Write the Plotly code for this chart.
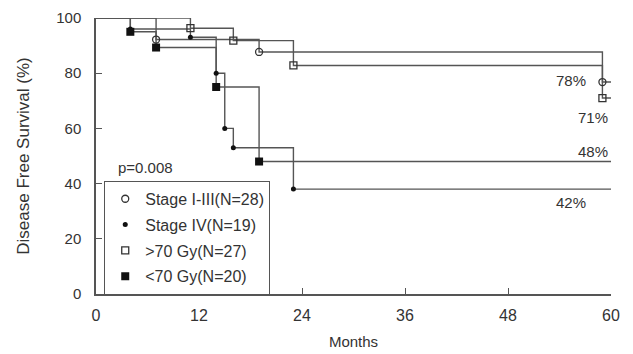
import plotly.graph_objects as go

# Kaplan-Meier step data (months, disease free survival %)
stage13_t = [0, 7, 19, 59, 60]
stage13_s = [100, 92.2, 87.7, 76.8, 76.8]

stage4_t = [0, 4, 11, 14, 15, 16, 23, 60]
stage4_s = [100, 96, 93, 80, 60, 53, 38, 38]

gt70_t = [0, 11, 16, 23, 59, 60]
gt70_s = [100, 96.3, 91.8, 82.8, 71, 71]

lt70_t = [0, 4, 7, 14, 19, 60]
lt70_s = [100, 95, 89.3, 75, 48, 48]

series_names = ["Stage I-III(N=28)", "Stage IV(N=19)", ">70 Gy(N=27)", "<70 Gy(N=20)"]
x_ticks = [0, 12, 24, 36, 48, 60]
y_ticks = [0, 20, 40, 60, 80, 100]
end_labels = ["78%", "71%", "48%", "42%"]
end_label_x = [55.3, 57.9, 57.9, 55.3]
end_label_y = [77.5, 64.0, 51.5, 33.0]

LINE = "#555555"
FONT = "Liberation Sans, Arial, sans-serif"

fig = go.Figure()

series = [
    (stage13_t, stage13_s, dict(symbol="circle-open", size=7, color="#333", line=dict(width=1.3, color="#333"))),
    (stage4_t, stage4_s, dict(symbol="circle", size=5, color="#111")),
    (gt70_t, gt70_s, dict(symbol="square-open", size=7, color="#333", line=dict(width=1.3, color="#333"))),
    (lt70_t, lt70_s, dict(symbol="square", size=8, color="#111")),
]

for i, (t, s, mk) in enumerate(series):
    fig.add_trace(go.Scatter(
        x=t, y=s, mode="lines", line=dict(shape="hv", color=LINE, width=1.4),
        showlegend=False, hoverinfo="skip", cliponaxis=False))
for i, (t, s, mk) in enumerate(series):
    fig.add_trace(go.Scatter(
        x=t[1:-1], y=s[1:-1], mode="markers", marker=mk, name=series_names[i],
        legendgroup=f"g{i}", showlegend=True, cliponaxis=False))

for txt, x, y in zip(end_labels, end_label_x, end_label_y):
    fig.add_annotation(x=x, y=y, text=txt, showarrow=False,
                       font=dict(family=FONT, size=15, color="#333"))

fig.add_annotation(x=2.3, y=46, text="p=0.008", showarrow=False, xanchor="left",
                   font=dict(family=FONT, size=15, color="#333"))

fig.update_layout(
    width=633, height=354,
    margin=dict(l=96, r=22, t=18, b=60, autoexpand=False),
    paper_bgcolor="white", plot_bgcolor="white",
    font=dict(family=FONT, color="#333"),
    legend=dict(
        x=0.016, y=0.41, xanchor="left", yanchor="top",
        bordercolor="#555", borderwidth=1, bgcolor="white",
        font=dict(family=FONT, size=16, color="#333"),
        tracegroupgap=2, traceorder="grouped",
        itemwidth=30,
    ),
    xaxis=dict(
        range=[0, 60], tickvals=x_ticks, ticks="inside", ticklen=6, tickcolor=LINE,
        showline=True, linecolor=LINE, linewidth=1.5, showgrid=False, zeroline=False,
        automargin=False,
        tickfont=dict(family=FONT, size=16, color="#333"), ticklabelstandoff=6,
        title=dict(text="Months", font=dict(family=FONT, size=15, color="#333"), standoff=14),
    ),
    yaxis=dict(
        range=[0, 100], tickvals=y_ticks, ticks="inside", ticklen=6, tickcolor=LINE,
        showline=True, linecolor=LINE, linewidth=1.5, showgrid=False, zeroline=False,
        automargin=False,
        tickfont=dict(family=FONT, size=15, color="#333"), ticklabelstandoff=10,
        title=dict(text="Disease Free Survival (%)", font=dict(family=FONT, size=17, color="#333"), standoff=22),
    ),
)

fig.write_html("out.html")
